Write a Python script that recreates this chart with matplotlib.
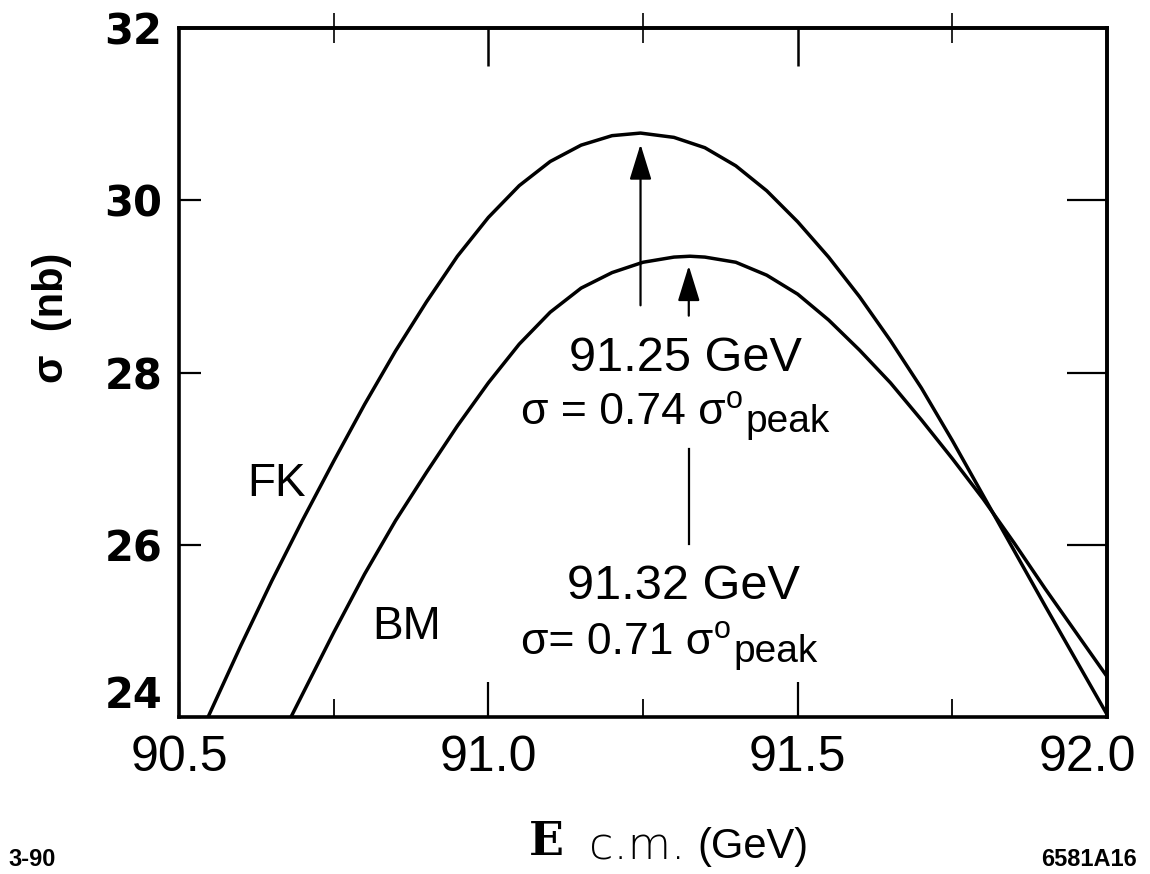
import matplotlib.pyplot as plt
from matplotlib.transforms import ScaledTranslation

# cross section curves (E_cm in GeV, sigma in nb)
fk_e = [90.547, 90.60, 90.65, 90.70, 90.75, 90.80, 90.85, 90.90, 90.95, 91.00,
        91.05, 91.10, 91.15, 91.20, 91.246, 91.30, 91.35, 91.40, 91.45, 91.50,
        91.55, 91.60, 91.65, 91.70, 91.75, 91.80, 91.85, 91.90, 91.95, 92.0]
fk_sig = [24.0, 24.83, 25.58, 26.29, 26.97, 27.63, 28.25, 28.82, 29.35, 29.80,
          30.17, 30.45, 30.64, 30.75, 30.78, 30.73, 30.61, 30.40, 30.11, 29.75,
          29.34, 28.88, 28.37, 27.82, 27.21, 26.57, 25.93, 25.29, 24.66, 24.03]

bm_e = [90.681, 90.70, 90.75, 90.80, 90.85, 90.90, 90.95, 91.00, 91.05, 91.10,
        91.15, 91.20, 91.25, 91.30, 91.326, 91.35, 91.40, 91.45, 91.50, 91.55,
        91.60, 91.65, 91.70, 91.75, 91.80, 91.85, 91.90, 91.95, 92.0]
bm_sig = [24.0, 24.27, 24.98, 25.66, 26.28, 26.84, 27.38, 27.88, 28.33, 28.70,
          28.98, 29.16, 29.28, 29.34, 29.35, 29.34, 29.28, 29.13, 28.91, 28.61,
          28.26, 27.88, 27.45, 27.0, 26.53, 26.02, 25.49, 24.98, 24.47]

xticks = [90.5, 91.0, 91.5, 92.0]
xticklabels = ['90.5', '91.0', '91.5', '92.0']
xminor = [90.75, 91.25, 91.75]
yticks = [24, 26, 28, 30, 32]

fk_peak_e, fk_arrow = 91.246, (28.78, 30.65)
bm_peak_e, bm_arrow = 91.324, (28.66, 29.24)
bm_stem = (26.01, 27.11)

plt.rcParams['font.family'] = ['Liberation Sans', 'DejaVu Sans']

fig = plt.figure(figsize=(11.5, 8.74), dpi=100)
ax = fig.add_axes([179/1150, 1-717/874, 928/1150, 689/874])

ax.plot(fk_e, fk_sig, color='k', lw=2.5, solid_joinstyle='round')
ax.plot(bm_e, bm_sig, color='k', lw=2.5, solid_joinstyle='round')
ax.set_xlim(90.5, 92.0)
ax.set_ylim(24, 32)
for s in ax.spines.values():
    s.set_linewidth(2.6)

ax.set_xticks(xticks)
ax.set_xticklabels(xticklabels)
ax.set_xticks(xminor, minor=True)
ax.tick_params(axis='x', which='major', direction='in', length=25, width=1.6,
               labelsize=36, pad=13, top=False)
ax.tick_params(axis='x', which='minor', direction='in', length=13, width=1.3, top=False)
ax.set_yticks(yticks)
ax.tick_params(axis='y', direction='in', length=16, width=1.6, pad=12, right=False)
for lab in ax.get_yticklabels():
    lab.set_family('DejaVu Sans')
    lab.set_fontweight('bold')
    lab.set_fontsize(30)
ax.get_yticklabels()[0].set_va('bottom')
last = ax.get_xticklabels()[-1]
last.set_transform(last.get_transform() + ScaledTranslation(-0.2, 0, fig.dpi_scale_trans))

top = ax.secondary_xaxis('top')
top.set_xticks([91.0, 91.5])
top.set_xticks(xminor, minor=True)
top.tick_params(which='major', direction='in', length=27, width=1.8, labeltop=False)
top.tick_params(which='minor', direction='inout', length=22, width=1.2)
top.spines['top'].set_linewidth(2.6)

right = ax.secondary_yaxis('right')
right.set_yticks([26, 28, 30])
right.tick_params(direction='in', length=29, width=1.6, labelright=False)
right.spines['right'].set_linewidth(2.6)

# arrows to the two peaks
head = dict(arrowstyle='-|>,head_length=1.1,head_width=0.34', lw=1.6, color='k',
            mutation_scale=20, shrinkA=0, shrinkB=0)
ax.annotate('', xy=(fk_peak_e, fk_arrow[1]), xytext=(fk_peak_e, fk_arrow[0]), arrowprops=head)
ax.annotate('', xy=(bm_peak_e, bm_arrow[1]), xytext=(bm_peak_e, bm_arrow[0]), arrowprops=head)
ax.plot([bm_peak_e, bm_peak_e], bm_stem, color='k', lw=1.6)


def sigma_line(x, y, main):
    t = ax.text(x, y, main, ha='left', va='baseline', fontsize=32)
    deg = ax.annotate('o', xy=(1, 0), xycoords=t, xytext=(0, 18), textcoords='offset points',
                      ha='left', va='baseline', fontsize=22)
    ax.annotate('peak', xy=(1, 0), xycoords=(deg, t), xytext=(2, 0.5), textcoords='offset points',
                ha='left', va='baseline', fontsize=28)


ax.text(91.319, 28.02, '91.25 GeV', ha='center', va='baseline', fontsize=35)
sigma_line(91.053, 27.405, 'σ = 0.74 σ')
ax.text(91.316, 25.375, '91.32 GeV', ha='center', va='baseline', fontsize=35)
sigma_line(91.053, 24.737, 'σ= 0.71 σ')
ax.text(90.658, 26.57, 'FK', ha='center', va='baseline', fontsize=33)
ax.text(90.868, 24.91, 'BM', ha='center', va='baseline', fontsize=33)

# axis labels
fig.text(52/1150, 1-318/874, 'σ  (nb)', rotation=90, ha='center', va='center',
         fontsize=30, fontweight='bold')
fig.text(546/1150, 1-855/874, 'E', ha='center', va='baseline', fontsize=33,
         family='DejaVu Serif', fontweight='bold')
fig.text(637/1150, 1-860/874, 'c.m.', ha='center', va='baseline', fontsize=32,
         family='DejaVu Sans', fontweight='light')
fig.text(753/1150, 1-858/874, '(GeV)', ha='center', va='baseline', fontsize=30)

fig.text(8/1150, 1-866/874, '3-90', ha='left', va='baseline', fontsize=17, fontweight='bold')
fig.text(1137/1150, 1-866/874, '6581A16', ha='right', va='baseline', fontsize=17, fontweight='bold')

fig.savefig('out.png', dpi=100)
